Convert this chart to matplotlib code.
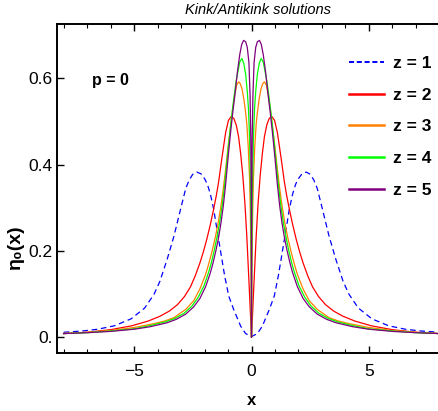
import numpy as np
import matplotlib
matplotlib.use('Agg')
import matplotlib.pyplot as plt
from matplotlib.ticker import MultipleLocator

plt.rcParams['font.family'] = ['Liberation Sans Narrow', 'Liberation Sans', 'DejaVu Sans']

# values, right half (x >= 0); curves are symmetric in x
x_z1 = [0, 0.25, 0.46, 0.76, 0.97, 1.15, 1.33, 1.47, 1.61, 1.75, 1.88, 2.0, 2.15, 2.33, 2.5, 2.65, 2.8, 3.02, 3.3, 3.59, 3.9, 4.15, 4.55, 5.13, 5.84, 6.55, 7.2, 8.0]
y_z1 = [0.002, 0.009, 0.026, 0.065, 0.096, 0.145, 0.204, 0.25, 0.297, 0.332, 0.355, 0.368, 0.379, 0.383, 0.378, 0.365, 0.345, 0.297, 0.235, 0.181, 0.13, 0.1, 0.068, 0.043, 0.027, 0.019, 0.015, 0.012]

x_z2 = [0, 0.1, 0.2, 0.28, 0.37, 0.46, 0.55, 0.65, 0.75, 0.86, 0.98, 1.1, 1.2, 1.3, 1.4, 1.5, 1.62, 1.75, 1.9, 2.05, 2.2, 2.4, 2.6, 2.85, 3.15, 3.5, 3.9, 4.4, 5.1, 6.0, 7.0, 8.0]
y_z2 = [0, 0.12, 0.235, 0.31, 0.375, 0.425, 0.465, 0.492, 0.507, 0.512, 0.503, 0.475, 0.438, 0.4, 0.36, 0.328, 0.295, 0.262, 0.228, 0.198, 0.172, 0.142, 0.117, 0.095, 0.076, 0.061, 0.049, 0.038, 0.027, 0.018, 0.012, 0.009]

x_z3 = [0, 0.005, 0.02, 0.05, 0.08, 0.14, 0.2, 0.25, 0.32, 0.4, 0.48, 0.55, 0.63, 0.72, 0.8, 0.9, 1.0, 1.1, 1.2, 1.3, 1.42, 1.54, 1.7, 1.85, 1.96, 2.2, 2.46, 2.8, 3.3, 3.7, 4.15, 5.0, 6.0, 7.0, 8.0]
y_z3 = [0, 0.06, 0.17, 0.29, 0.366, 0.443, 0.495, 0.521, 0.55, 0.575, 0.588, 0.592, 0.585, 0.56, 0.53, 0.485, 0.44, 0.39, 0.345, 0.305, 0.265, 0.232, 0.195, 0.165, 0.145, 0.112, 0.085, 0.065, 0.046, 0.038, 0.032, 0.023, 0.016, 0.012, 0.009]

x_z4 = [0, 0.005, 0.015, 0.03, 0.08, 0.13, 0.18, 0.25, 0.33, 0.41, 0.5, 0.58, 0.65, 0.75, 0.85, 0.95, 1.05, 1.15, 1.25, 1.35, 1.46, 1.58, 1.7, 1.82, 2.02, 2.27, 2.53, 2.87, 3.27, 3.67, 4.35, 5.0, 6.0, 7.0, 8.0]
y_z4 = [0, 0.12, 0.21, 0.3, 0.46, 0.53, 0.57, 0.61, 0.635, 0.646, 0.638, 0.615, 0.595, 0.555, 0.51, 0.46, 0.405, 0.35, 0.305, 0.268, 0.235, 0.203, 0.175, 0.152, 0.12, 0.093, 0.073, 0.056, 0.044, 0.036, 0.027, 0.02, 0.015, 0.011, 0.009]

x_z5 = [0, 0.003, 0.01, 0.03, 0.06, 0.11, 0.18, 0.25, 0.34, 0.42, 0.5, 0.6, 0.7, 0.8, 0.9, 1.0, 1.1, 1.2, 1.3, 1.4, 1.52, 1.64, 1.75, 1.95, 2.2, 2.46, 2.8, 3.2, 3.6, 4.3, 5.0, 6.0, 7.0, 8.0]
y_z5 = [0, 0.2, 0.32, 0.46, 0.56, 0.637, 0.672, 0.685, 0.688, 0.678, 0.655, 0.615, 0.565, 0.52, 0.47, 0.415, 0.355, 0.305, 0.265, 0.232, 0.2, 0.172, 0.15, 0.118, 0.09, 0.071, 0.054, 0.042, 0.034, 0.025, 0.019, 0.014, 0.011, 0.009]

labels = ['z = 1', 'z = 2', 'z = 3', 'z = 4', 'z = 5']
colors = ['#0000ff', '#ff0000', '#ff8000', '#00ff00', '#800080']


def mirror(xs, ys):
    xs = np.asarray(xs, float)
    ys = np.asarray(ys, float)
    return np.concatenate([-xs[::-1], xs[1:]]), np.concatenate([ys[::-1], ys[1:]])


fig = plt.figure(figsize=(4.39, 4.11), dpi=100)
ax = fig.add_axes([57 / 439, 58 / 411, 389 / 439, 329 / 411])

curves = [(x_z1, y_z1), (x_z2, y_z2), (x_z3, y_z3), (x_z4, y_z4), (x_z5, y_z5)]
for (xs, ys), lab, c in zip(curves, labels, colors):
    xx, yy = mirror(xs, ys)
    if lab == 'z = 1':
        ax.plot(xx, yy, color=c, lw=0.9, ls=(0, (4.5, 3)), label=lab)
    else:
        ax.plot(xx, yy, color=c, lw=0.9, label=lab)

ax.set_xlim(-8.28, 8.28)
ax.set_ylim(-0.036, 0.726)
ax.xaxis.set_minor_locator(MultipleLocator(1))
ax.set_xticks([-5, 0, 5])
ax.set_xticklabels(['\u22125', '0', '5'])
ax.set_yticks([0, 0.2, 0.4, 0.6])
ax.set_yticklabels(['0.', '0.2', '0.4', '0.6'])
ax.tick_params(which='both', direction='in', top=True, right=False, labelsize=12.5)
ax.tick_params(which='major', length=5, width=1)
ax.tick_params(which='minor', length=3, width=0.8)
ax.tick_params(axis='x', pad=8)
ax.tick_params(axis='y', pad=3)
for s in ['left', 'top', 'bottom']:
    ax.spines[s].set_linewidth(1.4)
ax.spines['right'].set_visible(False)

fig.text(258 / 439, 1 - 10 / 411, 'Kink/Antikink solutions', ha='center', va='center',
         style='italic', fontsize=10.5)
fig.text(15 / 439, 1 - 247 / 411, '\u03b7\u2080(x)', rotation=90, ha='center', va='center',
         fontsize=14, fontweight='bold')
fig.text(252 / 439, 1 - 400 / 411, 'x', ha='center', va='center', fontsize=12, fontweight='bold')
fig.text(92 / 439, 1 - 80 / 411, 'p = 0', ha='left', va='center', fontsize=11.5, fontweight='bold')

leg = ax.legend(loc='upper left', bbox_to_anchor=(349 / 439, 1 - 56 / 411), bbox_transform=fig.transFigure,
                frameon=False, borderpad=0, borderaxespad=0, handlelength=2.0, handletextpad=0.55,
                labelspacing=0.95, prop={'weight': 'bold', 'size': 12.5})
for i, h in enumerate(leg.get_lines()):
    if i == 0:
        h.set_linewidth(1.4)
        h.set_dashes([2.6, 1.4])
    else:
        h.set_linewidth(1.8)

fig.savefig('out.png', dpi=100)
